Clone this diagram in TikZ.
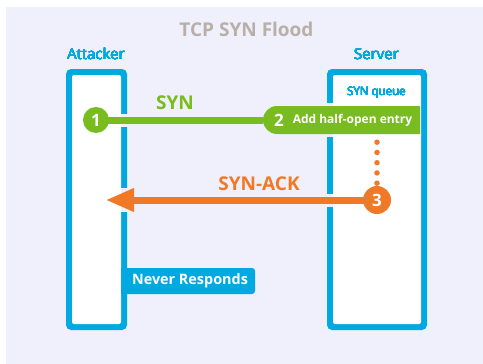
\documentclass[tikz,border=0pt]{standalone}
\usepackage{fontspec}
\setmainfont{Open Sans}
\usepackage[copies]{contour}
\contourlength{0.14pt}
\contournumber{16}
\usetikzlibrary{arrows.meta,shapes.misc}

\definecolor{netblue}{RGB}{0,169,224}
\definecolor{syngreen}{RGB}{120,188,32}
\definecolor{ackorange}{RGB}{240,121,40}
\definecolor{titlegrey}{RGB}{184,176,168}
\definecolor{panelbg}{RGB}{240,240,252}

% medium-weight blue text, thickened with a thin same-colour contour
\newcommand{\bluemedium}[1]{\textcolor{netblue}{\contour{netblue}{#1}}}

\tikzset{
  hostframe/.style={fill=netblue, rounded corners=5pt, inner sep=0pt},
  hostinner/.style={fill=white, rounded corners=2pt, inner sep=0pt},
  halo/.style={draw=panelbg},
  stepdot/.style={circle, inner sep=0pt, text=white, font=\fontsize{17}{17}\selectfont\bfseries},
  msglabel/.style={font=\fontsize{19}{19}\selectfont\bfseries},
  hostlabel/.style={font=\fontsize{15}{15}\selectfont},
}

\begin{document}
\begin{tikzpicture}[x=1pt, y=-1pt]
  % page and panel
  \fill[white] (0,0) rectangle (483,364);
  \fill[panelbg] (6,7) rectangle (483,364);
  \useasboundingbox (0,0) rectangle (483,364);

  % title and host names
  \node[text=titlegrey, font=\fontsize{19}{19}\selectfont\bfseries] (title) at (246.5,29.5) {TCP SYN Flood};
  \node[hostlabel] (attlabel) at (96,54) {\bluemedium{Attacker}};
  \node[hostlabel] (srvlabel) at (376.5,54) {\bluemedium{Server}};

  % host frames (blue outer)
  \node[hostframe, minimum width=61pt, minimum height=261pt] (attacker) at (96.5,199.5) {};
  \node[hostframe, minimum width=100pt, minimum height=261pt] (server) at (377,199.5) {};

  % named points on the message lines
  \coordinate (tip) at (107,200);

  % step markers and queue entry (placed first so halos can refer to them)
  \path (96,120) node[stepdot, minimum size=26pt] (c1) {};
  \path (341.5,120) node[rounded rectangle, rounded rectangle right arc=none,
        minimum width=157pt, minimum height=28pt, inner sep=0pt] (q2) {};
  \path (377,200) node[stepdot, minimum size=28pt] (c3) {};

  % knock-outs where the messages cross the frames
  \draw[halo, line width=13pt] (c1.center) -- (q2.west);
  \draw[halo, line width=34pt] ([xshift=-3pt]q2.west) -- (q2.center);
  \draw[halo, line width=13pt] (c3.center) -- ([xshift=20pt]tip);
  \draw[halo, line width=24pt] ([xshift=10pt]tip) -- ([xshift=30pt]tip);

  % host interiors
  \node[hostinner, minimum width=49pt, minimum height=249pt] (attin) at (96.5,199.5) {};
  \node[hostinner, minimum width=88pt, minimum height=249pt] (srvin) at (377,199.5) {};

  \node[font=\fontsize{11.5}{11.5}\selectfont] (queue) at (376.5,93) {\bluemedium{SYN queue}};

  % attacker note
  \node[fill=netblue, rounded corners=3pt, minimum width=134pt, minimum height=26pt,
        inner sep=0pt] (never) at (188,281) {};
  \fill[netblue] (121,268) rectangle (130,294);
  \node[text=white, font=\fontsize{14.4}{14.4}\selectfont\bfseries] (nevertxt) at (190,281) {Never Responds};

  % SYN message
  \draw[syngreen, line width=7pt] (c1.center) -- (q2.west);
  \node[stepdot, fill=syngreen, minimum size=26pt] at (c1) {1};
  \node[rounded rectangle, rounded rectangle right arc=none, fill=syngreen,
        minimum width=157pt, minimum height=28pt, inner sep=0pt] at (q2) {};
  \node[stepdot] (n2) at (279,120) {2};
  \node[text=white, font=\fontsize{12}{12}\selectfont\bfseries] (q2txt) at (352.5,120.5) {Add half-open entry};
  \node[msglabel, text=syngreen] (synlbl) at (175,103) {SYN};

  % queue entry waits: dotted trail down to step 3
  \draw[ackorange, line width=5.5pt, line cap=round, dash pattern=on 0pt off 10.25pt,
        shorten <=8pt, shorten >=2pt] (c3 |- q2.south) -- (c3.north);

  % SYN-ACK message
  \draw[ackorange, line width=7pt,
        -{Triangle[length=27pt, width=24pt, line width=0.01pt]}] (c3.center) -- (tip);
  \node[stepdot, fill=ackorange, minimum size=28pt] at (c3) {3};
  \node[msglabel, text=ackorange] (acklbl) at (259,184) {SYN-ACK};
\end{tikzpicture}
\end{document}
